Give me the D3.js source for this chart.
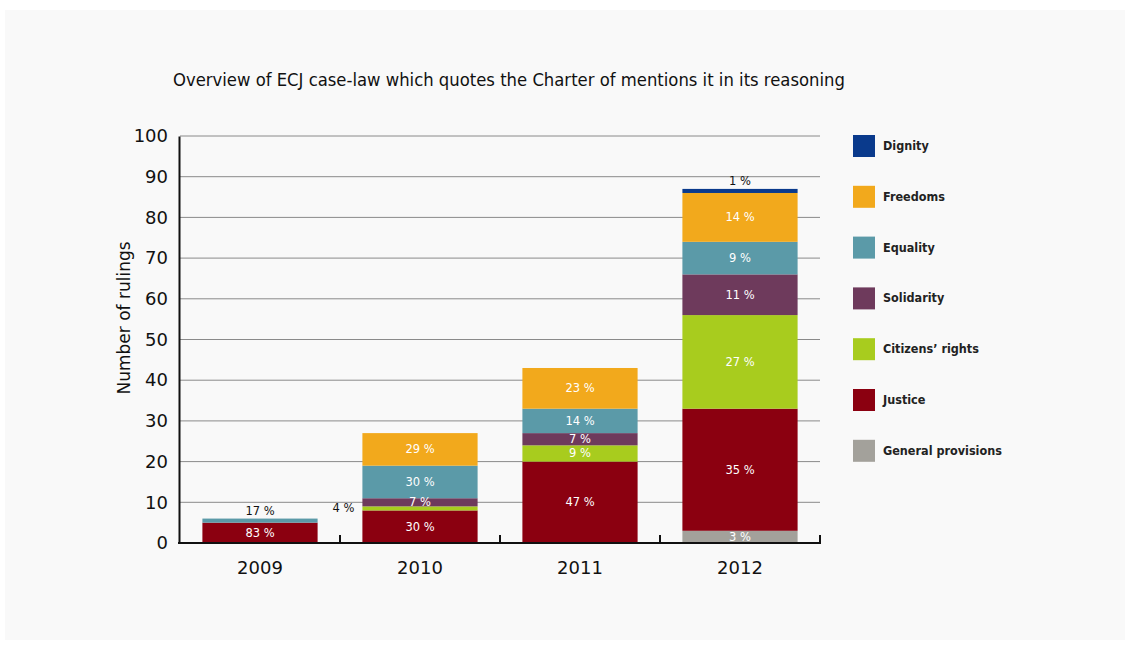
<!DOCTYPE html>
<meta charset="utf-8">
<script src="https://d3js.org/d3.v7.min.js"></script>
<style>
  body { margin: 0; background: #fff; }
  text { font-family: "DejaVu Sans", sans-serif; }
</style>
<svg id="chart" width="1130" height="646"></svg>
<script>
  // categories and series (bottom to top of each stack)
  var years = ["2009", "2010", "2011", "2012"];
  var series = ["General provisions", "Justice", "Citizens’ rights", "Solidarity", "Equality", "Freedoms", "Dignity"];
  var colors = ["#a3a19b", "#8b0010", "#a8cc1e", "#6e3a5c", "#5b9aa8", "#f2a91c", "#0a3a8c"];

  // number of rulings per year, in series order
  var generalProvisions = [0, 0, 0, 3];
  var justice           = [5, 8, 20, 30];
  var citizensRights    = [0, 1, 4, 23];
  var solidarity        = [0, 2, 3, 10];
  var equality          = [1, 8, 6, 8];
  var freedoms          = [0, 8, 10, 12];
  var dignity           = [0, 0, 0, 1];

  // percentage labels as printed on the chart
  var pctGeneral    = ["", "", "", "3 %"];
  var pctJustice    = ["83 %", "30 %", "47 %", "35 %"];
  var pctCitizens   = ["", "4 %", "9 %", "27 %"];
  var pctSolidarity = ["", "7 %", "7 %", "11 %"];
  var pctEquality   = ["17 %", "30 %", "14 %", "9 %"];
  var pctFreedoms   = ["", "29 %", "23 %", "14 %"];
  var pctDignity    = ["", "", "", "1 %"];

  var yTicks = [0, 10, 20, 30, 40, 50, 60, 70, 80, 90, 100];

  var values = [generalProvisions, justice, citizensRights, solidarity, equality, freedoms, dignity];
  var labels = [pctGeneral, pctJustice, pctCitizens, pctSolidarity, pctEquality, pctFreedoms, pctDignity];

  var table = years.map(function(y, i) {
    var row = { year: y };
    series.forEach(function(s, k) { row[s] = values[k][i]; });
    return row;
  });

  var svg = d3.select("svg");

  // light panel
  svg.append("rect").attr("x", 5).attr("y", 10).attr("width", 1120).attr("height", 630).attr("fill", "#f9f9f9");

  var x = d3.scaleBand().domain(years).range([180, 820]).paddingInner(0.28).paddingOuter(0.14);
  var y = d3.scaleLinear().domain([0, 100]).range([543, 136]);

  // gridlines
  svg.append("g")
    .selectAll("line")
    .data(yTicks.slice(1))
    .enter().append("line")
      .attr("x1", 180).attr("x2", 820)
      .attr("y1", function(d) { return y(d); })
      .attr("y2", function(d) { return y(d); })
      .attr("stroke", "#8a8a8a").attr("stroke-width", 1);

  // stacked bars
  var stacked = d3.stack().keys(series)(table);
  var layers = svg.append("g")
    .selectAll("g")
    .data(stacked)
    .enter().append("g")
      .attr("fill", function(d, k) { return colors[k]; });

  layers.selectAll("rect")
    .data(function(d) { return d; })
    .enter().append("rect")
      .attr("x", function(d) { return x(d.data.year); })
      .attr("width", x.bandwidth())
      .attr("y", function(d) { return y(d[1]); })
      .attr("height", function(d) { return y(d[0]) - y(d[1]); });

  // percentage labels
  var lab = svg.append("g").style("font-family", "'DejaVu Sans Condensed', 'DejaVu Sans', sans-serif").style("font-size", "11.5px");
  stacked.forEach(function(layer, k) {
    layer.forEach(function(d, i) {
      var txt = labels[k][i];
      if (!txt) return;
      var h = y(d[0]) - y(d[1]);
      var cx = x(d.data.year) + x.bandwidth() / 2;
      var cy = (y(d[0]) + y(d[1])) / 2 + 4;
      var fill = "#fff";
      var anchor = "middle";
      if (h < 6) {
        fill = "#111";
        if (series[k] === "Citizens’ rights") {
          cx = x(d.data.year) - 8;
          cy = y(d[1]) + 6;
          anchor = "end";
        } else {
          cy = y(d[1]) - 4;
        }
      }
      lab.append("text")
        .attr("x", cx).attr("y", cy)
        .attr("text-anchor", anchor)
        .attr("fill", fill)
        .text(txt);
    });
  });

  // y axis
  var yAxis = svg.append("g").attr("transform", "translate(179,0)")
    .call(d3.axisLeft(y).tickValues(yTicks).tickSize(0).tickPadding(11));
  yAxis.select(".domain").attr("stroke", "#111").attr("stroke-width", 2);
  yAxis.selectAll("text").style("font-size", "18px").attr("fill", "#111");

  // x axis baseline with upward ticks at band edges
  var base = svg.append("g");
  base.append("line").attr("x1", 178).attr("x2", 820).attr("y1", 543).attr("y2", 543)
    .attr("stroke", "#111").attr("stroke-width", 2);
  base.selectAll("line.tick")
    .data(years)
    .enter().append("line")
      .attr("class", "tick")
      .attr("x1", function(d) { return x(d) + x.bandwidth() + x.step() * 0.14; })
      .attr("x2", function(d) { return x(d) + x.bandwidth() + x.step() * 0.14; })
      .attr("y1", 544).attr("y2", 535)
      .attr("stroke", "#111").attr("stroke-width", 2);
  base.selectAll("text")
    .data(years)
    .enter().append("text")
      .attr("x", function(d) { return x(d) + x.bandwidth() / 2; })
      .attr("y", 574)
      .attr("text-anchor", "middle")
      .style("font-size", "18px")
      .attr("fill", "#111")
      .text(function(d) { return d; });

  // axis title
  svg.append("text")
    .attr("transform", "translate(130,318) rotate(-90)")
    .attr("text-anchor", "middle")
    .style("font-size", "17px")
    .attr("fill", "#111")
    .text("Number of rulings");

  // chart title
  svg.append("text")
    .attr("x", 173).attr("y", 86)
    .style("font-family", "'DejaVu Sans Condensed', 'DejaVu Sans', sans-serif")
    .style("font-size", "18.3px")
    .attr("fill", "#111")
    .text("Overview of ECJ case-law which quotes the Charter of mentions it in its reasoning");

  // legend, top to bottom: Dignity first
  var legendItems = series.map(function(s, k) { return { name: s, color: colors[k] }; }).reverse();
  var legend = svg.append("g")
    .selectAll("g")
    .data(legendItems)
    .enter().append("g")
      .attr("transform", function(d, i) { return "translate(853," + (135 + i * 50.8) + ")"; });
  legend.append("rect").attr("width", 22).attr("height", 22).attr("fill", function(d) { return d.color; });
  legend.append("text")
    .attr("x", 30).attr("y", 15)
    .style("font-family", "'DejaVu Sans Condensed', 'DejaVu Sans', sans-serif")
    .style("font-size", "12.5px")
    .style("font-weight", "bold")
    .attr("fill", "#222")
    .text(function(d) { return d.name; });
</script>
